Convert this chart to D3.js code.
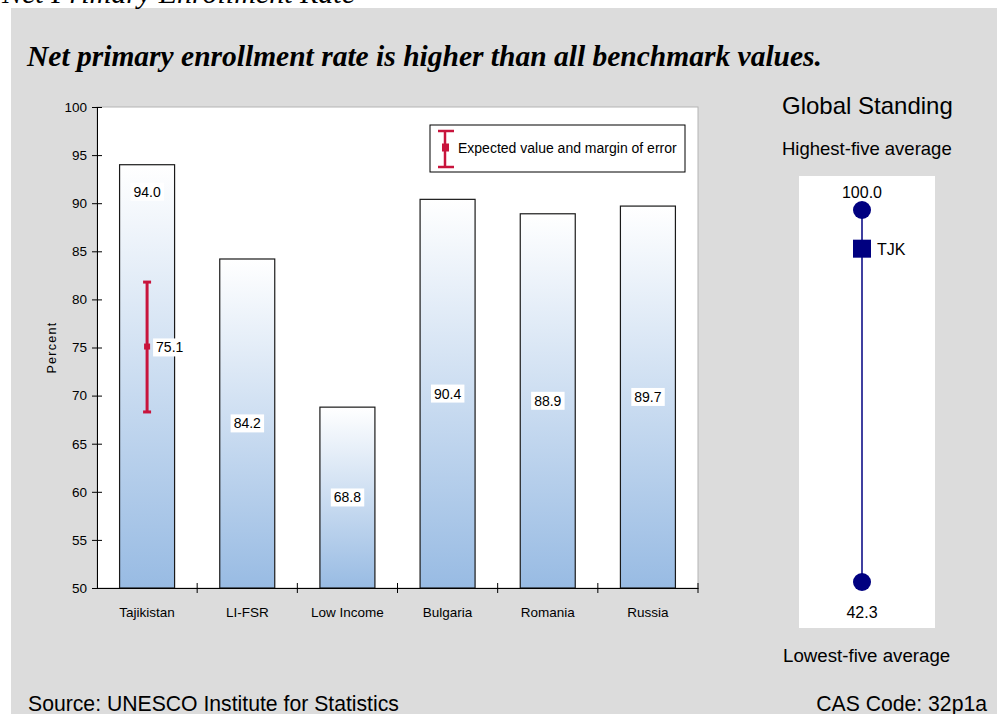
<!DOCTYPE html>
<html>
<head>
<meta charset="utf-8">
<script src="https://cdn.jsdelivr.net/npm/d3@7"></script>
<style>
  html, body { margin: 0; padding: 0; background: #ffffff; }
  svg { display: block; }
</style>
</head>
<body>
<svg id="chart" width="997" height="714"></svg>
<script>
// Net primary enrollment, Tajikistan vs. benchmarks
const categories = ["Tajikistan", "LI-FSR", "Low Income", "Bulgaria", "Romania", "Russia"];
const values = [94.0, 84.2, 68.8, 90.4, 88.9, 89.7];
const yTicks = [50, 55, 60, 65, 70, 75, 80, 85, 90, 95, 100];

// Expected value for Tajikistan with its margin of error
const expectedValue = 75.1;
const expectedLow = 68.3;
const expectedHigh = 81.8;

// Global standing scale
const standingHigh = 100.0;
const standingLow = 42.3;
const standingCountry = "TJK";
const standingValue = 94.0;

const svg = d3.select("#chart");
const FONT = "Arial, 'Liberation Sans', Helvetica, sans-serif";
const SERIF = "'Times New Roman', 'Liberation Serif', Times, serif";

// page backdrop
svg.append("rect").attr("x", 11).attr("y", 8).attr("width", 986).attr("height", 706).attr("fill", "#dcdcdc");

// heading above the panel (runs off the top edge)
svg.append("text").attr("x", 2).attr("y", 3)
  .attr("font-family", SERIF).attr("font-style", "italic").attr("font-size", 30)
  .attr("fill", "#000").text("Net Primary Enrollment Rate");

svg.append("text").attr("x", 27).attr("y", 66)
  .attr("font-family", SERIF).attr("font-style", "italic").attr("font-weight", "bold")
  .attr("font-size", 29.5).attr("fill", "#000")
  .text("Net primary enrollment rate is higher than all benchmark values.");

// ----- bar chart -----
const plot = { left: 97, right: 698, top: 107, bottom: 588 };

const x = d3.scaleBand().domain(categories).range([plot.left, plot.right]).paddingInner(0).paddingOuter(0);
const y = d3.scaleLinear().domain([50, 100]).range([plot.bottom, plot.top]);

const defs = svg.append("defs");
const grad = defs.append("linearGradient").attr("id", "barFill")
  .attr("x1", 0).attr("y1", 0).attr("x2", 0).attr("y2", 1);
grad.append("stop").attr("offset", "0%").attr("stop-color", "#ffffff");
grad.append("stop").attr("offset", "100%").attr("stop-color", "#98bbe3");

svg.append("rect")
  .attr("x", plot.left).attr("y", plot.top)
  .attr("width", plot.right - plot.left).attr("height", plot.bottom - plot.top)
  .attr("fill", "#ffffff").attr("stroke", "#b4b4b4").attr("stroke-width", 1);

const barW = 55;
svg.append("g").selectAll("rect").data(categories).join("rect")
  .attr("x", d => x(d) + x.bandwidth() / 2 - barW / 2)
  .attr("y", (d, i) => y(values[i]))
  .attr("width", barW)
  .attr("height", (d, i) => y(50) - y(values[i]))
  .attr("fill", "url(#barFill)")
  .attr("stroke", "#1a1a1a").attr("stroke-width", 1.2);

// y axis with ticks crossing the line
const yAxis = d3.axisLeft(y).tickValues(yTicks).tickSize(0).tickPadding(10).tickFormat(d3.format("d"));
const yg = svg.append("g").attr("transform", `translate(${plot.left},0)`).call(yAxis);
yg.select(".domain").attr("stroke", "#000");
yg.selectAll(".tick line").remove();
yg.selectAll(".tick").append("line").attr("x1", -5).attr("x2", 5).attr("stroke", "#000");
yg.selectAll("text").attr("font-family", FONT).attr("font-size", 13.5).attr("fill", "#000");

// x axis: ticks on band boundaries
const xAxis = d3.axisBottom(x).tickSize(0).tickPadding(19);
const xg = svg.append("g").attr("transform", `translate(0,${plot.bottom})`).call(xAxis);
xg.select(".domain").attr("stroke", "#000");
xg.selectAll("text").attr("font-family", FONT).attr("font-size", 13.5).attr("fill", "#000");
const bounds = categories.map(c => x(c)).concat([x.range()[1]]);
xg.selectAll(".btick").data(bounds.slice(1)).join("line").attr("class", "btick")
  .attr("x1", d => d).attr("x2", d => d).attr("y1", -5).attr("y2", 5).attr("stroke", "#000");

svg.append("text")
  .attr("transform", `translate(56,${(plot.top + plot.bottom) / 2}) rotate(-90)`)
  .attr("text-anchor", "middle").attr("font-family", FONT).attr("font-size", 12.5)
  .attr("letter-spacing", 1.3).attr("fill", "#000").text("Percent");

// value labels on white boxes
function boxedLabel(g, cx, cy, txt, anchor) {
  const t = g.append("text").attr("x", cx).attr("y", cy).attr("dy", "0.35em")
    .attr("text-anchor", anchor || "middle").attr("font-family", FONT).attr("font-size", 14)
    .attr("fill", "#000").text(txt);
  const b = t.node().getBBox();
  g.insert("rect", () => t.node())
    .attr("x", b.x - 3).attr("y", b.y - 1).attr("width", b.width + 6).attr("height", b.height + 2)
    .attr("fill", "#ffffff");
}
const labels = svg.append("g");
categories.forEach((c, i) => {
  const cx = x(c) + x.bandwidth() / 2;
  // first bar carries the error bar, so its label sits near the top of the bar
  const cy = i === 0 ? y(values[i]) + 27 : (y(values[i]) + y(50)) / 2;
  boxedLabel(labels, cx, cy, values[i].toFixed(1));
});

// error bar for the expected value
const ec = "#c8143c";
const ex = x(categories[0]) + x.bandwidth() / 2;
const eb = svg.append("g");
eb.append("line").attr("x1", ex).attr("x2", ex).attr("y1", y(expectedHigh)).attr("y2", y(expectedLow))
  .attr("stroke", ec).attr("stroke-width", 3);
[expectedHigh, expectedLow].forEach(v => {
  eb.append("line").attr("x1", ex - 4).attr("x2", ex + 4).attr("y1", y(v)).attr("y2", y(v))
    .attr("stroke", ec).attr("stroke-width", 3);
});
eb.append("rect").attr("x", ex - 3).attr("y", y(expectedValue) - 3).attr("width", 6).attr("height", 6).attr("fill", ec);
boxedLabel(labels, ex + 9, y(expectedValue) + 1, expectedValue.toFixed(1), "start");

// legend
const lg = svg.append("g");
lg.append("rect").attr("x", 430).attr("y", 125).attr("width", 255).attr("height", 47)
  .attr("fill", "#ffffff").attr("stroke", "#000").attr("stroke-width", 1);
lg.append("line").attr("x1", 445).attr("x2", 445).attr("y1", 131).attr("y2", 167).attr("stroke", ec).attr("stroke-width", 2.5);
[131, 167].forEach(yy => lg.append("line").attr("x1", 438).attr("x2", 454).attr("y1", yy).attr("y2", yy).attr("stroke", ec).attr("stroke-width", 2.5));
lg.append("rect").attr("x", 442).attr("y", 143.5).attr("width", 7).attr("height", 8).attr("fill", ec);
lg.append("text").attr("x", 458).attr("y", 148).attr("dy", "0.35em")
  .attr("font-family", FONT).attr("font-size", 14).attr("fill", "#000")
  .text("Expected value and margin of error");

// ----- global standing -----
const gs = svg.append("g");
gs.append("text").attr("x", 782).attr("y", 114).attr("font-family", FONT).attr("font-size", 24)
  .attr("fill", "#000").text("Global Standing");
gs.append("text").attr("x", 782).attr("y", 155).attr("font-family", FONT).attr("font-size", 18.5)
  .attr("fill", "#000").text("Highest-five average");
gs.append("rect").attr("x", 799).attr("y", 176).attr("width", 136).attr("height", 452).attr("fill", "#ffffff");

const sy = d3.scaleLinear().domain([standingLow, standingHigh]).range([582, 210]);
const sx = 862;
gs.append("line").attr("x1", sx).attr("x2", sx).attr("y1", sy(standingHigh)).attr("y2", sy(standingLow))
  .attr("stroke", "#000080").attr("stroke-width", 1.5);
[standingHigh, standingLow].forEach(v => {
  gs.append("circle").attr("cx", sx).attr("cy", sy(v)).attr("r", 9).attr("fill", "#000080");
});
gs.append("rect").attr("x", sx - 9).attr("y", sy(standingValue) - 9).attr("width", 18).attr("height", 18).attr("fill", "#000080");
gs.append("text").attr("x", sx + 15).attr("y", sy(standingValue) + 6).attr("font-family", FONT).attr("font-size", 16)
  .attr("fill", "#000").text(standingCountry);
gs.append("text").attr("x", sx).attr("y", sy(standingHigh) - 12).attr("text-anchor", "middle")
  .attr("font-family", FONT).attr("font-size", 16).attr("fill", "#000").text(standingHigh.toFixed(1));
gs.append("text").attr("x", sx).attr("y", sy(standingLow) + 36).attr("text-anchor", "middle")
  .attr("font-family", FONT).attr("font-size", 16).attr("fill", "#000").text(standingLow.toFixed(1));
gs.append("text").attr("x", 783).attr("y", 662).attr("font-family", FONT).attr("font-size", 18.7)
  .attr("fill", "#000").text("Lowest-five average");

// footer
svg.append("text").attr("x", 28).attr("y", 711).attr("font-family", FONT).attr("font-size", 21.2)
  .attr("fill", "#000").text("Source: UNESCO Institute for Statistics");
svg.append("text").attr("x", 987).attr("y", 711).attr("text-anchor", "end").attr("font-family", FONT)
  .attr("font-size", 21.2).attr("fill", "#000").text("CAS Code: 32p1a");
</script>
</body>
</html>
